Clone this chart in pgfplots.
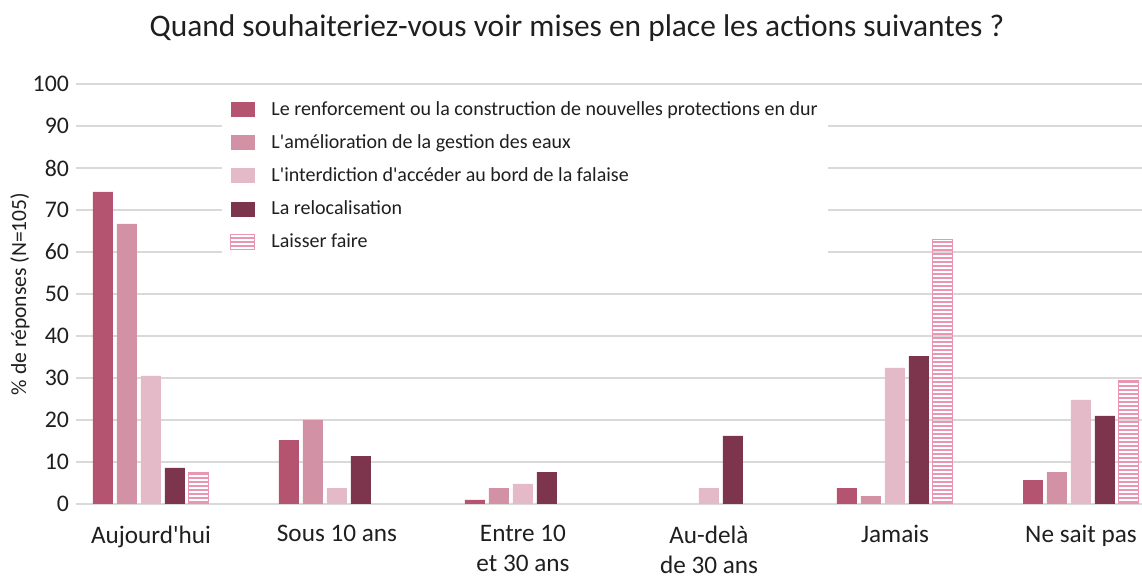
\documentclass[border=0pt]{standalone}
\usepackage{fontspec}
\setmainfont{Carlito}[Ligatures=TeXOff]
\usepackage{pgfplots}
\pgfplotsset{compat=1.18}
\usetikzlibrary{patterns.meta}
\definecolor{c1}{HTML}{B55471}
\definecolor{c2}{HTML}{D391A5}
\definecolor{c3}{HTML}{E5BAC8}
\definecolor{c4}{HTML}{7D344D}
\definecolor{c5}{HTML}{E896B2}
\definecolor{gridc}{HTML}{D9D9D9}
\definecolor{txt}{HTML}{1F1F1F}
\begin{document}
\begin{tikzpicture}
\begin{axis}[
  at={(0,0)}, anchor=south west,
  scale only axis, width=533pt, height=210pt,
  xmin=-0.403, xmax=5.328, ymin=0, ymax=100,
  ytick={0,10,...,100},
  xtick={0,...,5},
  xticklabels={Aujourd'hui, Sous 10 ans, {Entre 10\\et 30 ans}, {Au-delà\\de 30 ans}, Jamais, Ne sait pas},
  xticklabel style={align=center, font=\fontsize{12.6}{15}\selectfont, text=txt, yshift=-3pt},
  yticklabel style={font=\fontsize{11.9}{13}\selectfont, text=txt},
  /pgf/number format/assume math mode=true,
  axis line style={draw=none},
  tick style={draw=none},
  ymajorgrids, major grid style={gridc, line width=0.6pt},
  every axis y label/.style={at={(axis description cs:-0.0525,0.5)}, rotate=90, anchor=center, font=\fontsize{10.8}{12}\selectfont, text=txt},
  ylabel={\% de réponses (N=105)},
  ybar, bar width=0.1075,
  legend cell align=left,
  legend style={at={(axis description cs:0.137,0.9786)}, anchor=north west, draw=none, fill=white,
    font=\fontsize{10}{12}\selectfont, text=txt, row sep=6.1pt, inner xsep=4pt, inner ysep=3pt,
    nodes={inner sep=1pt},
    /tikz/every odd column/.style={column sep=7pt}},
  legend image code/.code={\path[#1] (0pt,-3.75pt) rectangle (12pt,3.75pt);},
  clip=false,
]
\addplot[fill=c1, draw=none, bar shift=-0.258] coordinates {(0,74.3)(1,15.2)(2,1.0)(4,3.8)(5,5.7)};
\addlegendentry{Le renforcement ou la construction de nouvelles protections en dur}
\addplot[fill=c2, draw=none, bar shift=-0.129] coordinates {(0,66.7)(1,20.0)(2,3.8)(4,1.9)(5,7.6)};
\addlegendentry{L'amélioration de la gestion des eaux}
\addplot[fill=c3, draw=none, bar shift=0] coordinates {(0,30.5)(1,3.8)(2,4.8)(3,3.8)(4,32.4)(5,24.8)};
\addlegendentry{L'interdiction d'accéder au bord de la falaise}
\addplot[fill=c4, draw=none, bar shift=0.129] coordinates {(0,8.6)(1,11.4)(2,7.6)(3,16.2)(4,35.2)(5,21.0)};
\addlegendentry{La relocalisation}
\addplot[draw=c5, line width=0.5pt, fill=white, pattern={Lines[angle=0,distance=2pt,line width=0.8pt]}, pattern color=c5, bar shift=0.258] coordinates {(0,7.6)(4,62.9)(5,29.5)};
\addlegendentry{Laisser faire}
\end{axis}
\node[font=\fontsize{15.7}{18}\selectfont, text=txt] at (250.5pt,238pt) {Quand souhaiteriez-vous voir mises en place les actions suivantes ?};
\pgfresetboundingbox
\path (-38pt,-37pt) rectangle (533pt,252pt);
\end{tikzpicture}
\end{document}
